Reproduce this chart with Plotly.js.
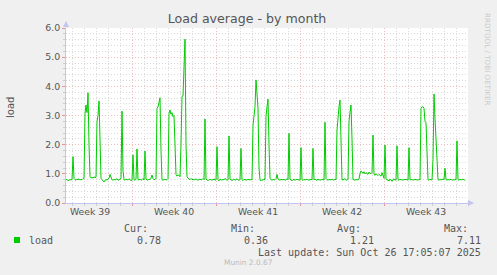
<!DOCTYPE html>
<html>
<head>
<meta charset="utf-8">
<script src="https://cdn.plot.ly/plotly-3.0.1.min.js"></script>
<style>
html,body{margin:0;padding:0;background:#f0f0f0;}
#chart{width:497px;height:275px;}
</style>
</head>
<body>
<div id="chart"></div>
<script>
// ---- data (2-hour averages, first sample at day -5.5 relative to start of Week 40) ----
const seriesName = 'load';
const startDay = -5.5;
const stepDays = 1 / 12;
const loadValues = [
  0.82,0.79,0.77,0.78,0.80,0.79,0.81,1.59,0.84,0.80,0.78,0.82,
  0.80,0.83,0.79,0.81,0.80,0.84,0.85,3.07,3.36,3.10,3.78,2.00,
  0.90,0.86,0.88,0.85,0.90,0.87,0.88,2.80,3.00,3.50,1.40,0.85,
  0.80,0.74,0.72,0.78,0.80,0.79,0.82,0.85,0.98,0.84,0.80,0.78,
  0.81,0.79,0.80,0.83,0.78,0.80,0.82,0.84,3.15,1.10,0.80,0.78,
  0.82,0.80,0.79,0.83,0.80,0.77,0.78,1.65,0.80,0.78,0.82,1.85,
  0.80,0.79,0.82,0.78,0.80,0.84,0.79,1.78,0.81,0.80,0.78,0.82,
  0.80,0.85,0.96,0.84,0.80,0.81,0.85,3.25,3.30,3.45,3.61,1.80,
  0.80,0.78,0.80,0.82,0.79,0.80,0.84,3.07,3.19,3.04,3.10,2.96,
  3.00,2.00,0.98,0.92,0.96,0.95,0.90,2.00,3.65,3.67,4.60,5.62,
  2.00,0.90,0.85,0.82,0.80,0.84,0.80,0.82,0.79,0.80,0.83,0.80,
  0.78,0.80,0.82,0.79,0.80,0.84,0.80,2.88,0.82,0.80,0.76,0.80,
  0.82,0.78,0.80,0.79,0.83,0.78,0.80,1.93,0.80,0.76,0.82,0.80,
  0.78,0.81,0.79,0.84,0.80,0.78,0.80,2.30,0.82,0.79,0.77,0.80,
  0.82,0.78,0.80,0.83,0.79,0.78,0.80,1.87,0.80,0.77,0.81,0.79,
  0.80,0.78,0.82,0.79,0.80,0.81,0.80,2.67,3.00,3.30,4.22,3.60,
  3.25,1.20,0.79,0.76,0.80,0.78,0.82,0.80,2.96,3.30,3.56,2.00,
  0.85,0.80,0.78,0.81,0.79,0.80,0.84,0.98,0.82,0.80,0.78,0.81,
  0.80,0.79,0.82,0.78,0.80,0.83,0.80,2.39,0.82,0.79,0.76,0.80,
  0.81,0.78,0.80,0.82,0.79,0.80,0.78,1.90,0.80,0.77,0.81,0.79,
  0.80,0.82,0.78,0.80,0.79,0.81,0.80,1.87,0.79,0.82,0.78,0.80,
  0.81,0.79,0.80,0.78,0.82,0.80,0.79,2.77,0.84,0.80,0.78,0.81,
  0.80,0.79,0.82,0.80,0.78,0.81,0.80,2.50,3.00,3.30,3.53,2.00,
  0.79,0.80,0.82,0.83,0.80,0.78,0.82,2.80,3.10,3.36,2.20,0.80,
  0.80,0.78,0.81,0.79,0.80,0.82,1.02,1.10,1.05,1.02,1.07,1.00,
  1.04,1.02,0.98,1.06,1.03,1.00,1.05,2.33,0.98,0.95,1.00,0.96,
  0.94,0.98,0.95,0.92,1.04,0.90,0.85,1.99,0.82,0.78,0.80,0.75,
  0.82,0.79,0.74,0.80,0.83,0.78,0.80,1.96,0.80,0.78,0.82,0.79,
  0.80,0.78,0.81,0.79,0.82,0.80,0.78,1.90,0.80,0.79,0.81,0.78,
  0.80,0.82,0.79,0.80,0.78,0.81,0.80,3.25,3.30,3.30,3.25,2.80,
  2.75,1.50,0.80,0.78,0.82,0.80,0.79,1.50,3.74,2.90,2.00,1.10,
  0.80,0.78,0.81,0.79,0.80,0.82,0.80,1.19,0.80,0.78,0.81,0.79,
  0.80,0.82,0.78,0.80,0.79,0.80,0.81,2.13,0.80,0.78,0.82,0.79,
  0.80,0.82,0.79,0.78
];
const weekTickPos = [-3.5, 3.5, 10.5, 17.5, 24.5];
const weekTickLabels = ['Week 39', 'Week 40', 'Week 41', 'Week 42', 'Week 43'];
const statLabels = ['Cur:', 'Min:', 'Avg:', 'Max:'];
const statValues = ['0.78', '0.36', '1.21', '7.11'];
const titleText = 'Load average - by month';
const yTitle = 'load';
const lastUpdate = 'Last update: Sun Oct 26 17:05:07 2025';
const footer = 'Munin 2.0.67';
const sideText = 'RRDTOOL / TOBI OETIKER';

// ---- geometry ----
const W = 497, H = 275;
const L = 66, R = 468, T = 28, B = 203;
const px = x => (x - L) / (R - L);
const py = y => (B - y) / (B - T);

const xs = loadValues.map((v, i) => startDay + i * stepDays);

const mono = 'DejaVu Sans Mono, monospace';
const sans = 'DejaVu Sans, sans-serif';
const green = '#00cc00';
const axisBlue = '#c4c4f0';
const majorGrid = '#efbcbc';
const minorGrid = '#dadada';

const trace = {
  x: xs, y: loadValues, type: 'scatter', mode: 'lines',
  line: {color: green, width: 1}, name: seriesName, hoverinfo: 'skip'
};
const dummy = {x: [], y: [], xaxis: 'x2', type: 'scatter', showlegend: false};

const annotations = [];
const colRight = [150, 257, 363, 470];
const valRight = [163, 270, 376, 483];
statLabels.forEach((s, i) => annotations.push({
  text: s, xref: 'paper', yref: 'paper', x: px(colRight[i]), y: py(228),
  xanchor: 'right', yanchor: 'middle', showarrow: false,
  font: {family: mono, size: 10, color: '#555'}
}));
statValues.forEach((s, i) => annotations.push({
  text: s, xref: 'paper', yref: 'paper', x: px(valRight[i]), y: py(240),
  xanchor: 'right', yanchor: 'middle', showarrow: false,
  font: {family: mono, size: 10, color: '#555'}
}));
annotations.push({
  text: seriesName, xref: 'paper', yref: 'paper', x: px(27), y: py(240),
  xanchor: 'left', yanchor: 'middle', showarrow: false,
  font: {family: mono, size: 10, color: '#555'}
});
annotations.push({
  text: lastUpdate, xref: 'paper', yref: 'paper', x: px(483), y: py(252),
  xanchor: 'right', yanchor: 'middle', showarrow: false,
  font: {family: mono, size: 10, color: '#555'}
});
annotations.push({
  text: footer, xref: 'paper', yref: 'paper', x: px(248), y: py(262),
  xanchor: 'center', yanchor: 'middle', showarrow: false,
  font: {family: sans, size: 7.4, color: '#bbbbbb'}
});
annotations.push({
  text: sideText, xref: 'paper', yref: 'paper', x: px(488), y: py(59),
  xanchor: 'center', yanchor: 'middle', showarrow: false, textangle: 90,
  font: {family: sans, size: 7.2, color: '#cccccc'}
});
annotations.push({
  text: yTitle, xref: 'paper', yref: 'paper', x: px(10), y: py(108),
  xanchor: 'center', yanchor: 'middle', showarrow: false, textangle: -90,
  font: {family: sans, size: 10, color: '#555'}
});
// axis arrows
annotations.push({
  xref: 'paper', yref: 'paper', x: px(66), y: py(21), ax: 0, ay: 8,
  showarrow: true, arrowhead: 2, arrowsize: 1.2, arrowwidth: 1, arrowcolor: axisBlue, text: ''
});
annotations.push({
  xref: 'paper', yref: 'paper', x: px(474), y: py(203), ax: -8, ay: 0,
  showarrow: true, arrowhead: 2, arrowsize: 1.2, arrowwidth: 1, arrowcolor: axisBlue, text: ''
});

const layout = {
  width: W, height: H,
  paper_bgcolor: '#f0f0f0', plot_bgcolor: '#ffffff',
  margin: {l: L, r: W - R, t: T, b: H - B, pad: 0},
  showlegend: false,
  title: {text: titleText, x: 0.497, xanchor: 'center', y: 1 - 19 / H, yanchor: 'middle',
          font: {family: sans, size: 12.6, color: '#555'}},
  xaxis: {
    range: [-5.5, 28], tickmode: 'linear', tick0: 0, dtick: 7,
    showticklabels: false, showgrid: true, gridcolor: majorGrid, griddash: '1px,2px', gridwidth: 1,
    ticks: 'outside', ticklen: 2, tickcolor: '#e49494',
    minor: {tickmode: 'linear', tick0: 0, dtick: 1, showgrid: true, gridcolor: minorGrid,
            griddash: '1px,2px', ticks: 'outside', ticklen: 2, tickcolor: '#cccccc'},
    showline: true, linecolor: axisBlue, linewidth: 1, zeroline: false, fixedrange: true
  },
  xaxis2: {
    overlaying: 'x', matches: 'x', range: [-5.5, 28], tickmode: 'array',
    tickvals: weekTickPos, ticktext: weekTickLabels, showgrid: false, ticks: '',
    side: 'bottom', showline: false, zeroline: false, ticklabelstandoff: 2,
    tickfont: {family: sans, size: 9.3, color: '#555'}
  },
  yaxis: {
    range: [0, 6], tickmode: 'linear', tick0: 0, dtick: 1, tickformat: '.1f',
    showgrid: true, gridcolor: majorGrid, griddash: '1px,2px', gridwidth: 1,
    ticks: 'outside', ticklen: 3, tickcolor: '#e49494',
    minor: {tickmode: 'linear', tick0: 0, dtick: 0.2, showgrid: true, gridcolor: minorGrid,
            griddash: '1px,2px', ticks: 'outside', ticklen: 2, tickcolor: '#cccccc'},
    showline: true, linecolor: axisBlue, linewidth: 1, zeroline: false,
    tickfont: {family: sans, size: 9.4, color: '#555'}, fixedrange: true
  },
  shapes: [{
    type: 'rect', xref: 'paper', yref: 'paper',
    x0: px(14), x1: px(20), y0: py(243), y1: py(237),
    fillcolor: green, line: {width: 0}
  }],
  annotations: annotations
};

Plotly.newPlot('chart', [trace, dummy], layout, {displayModeBar: false, staticPlot: true});
</script>
</body>
</html>
